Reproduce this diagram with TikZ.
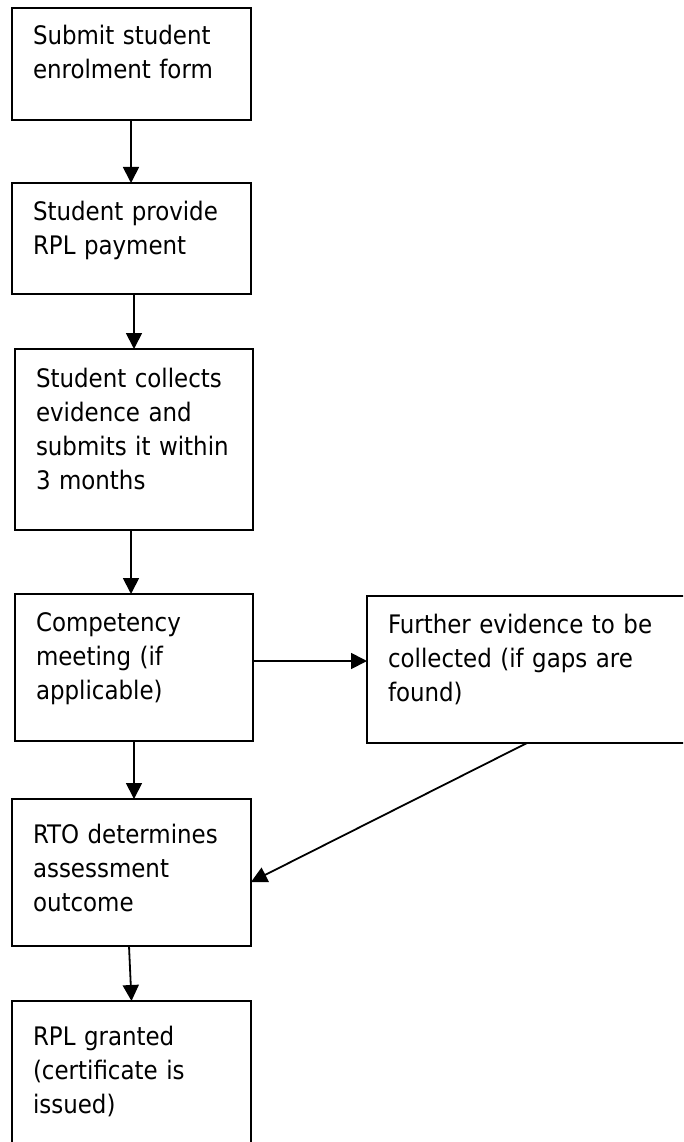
\documentclass[tikz,border=0pt]{standalone}
\usepackage{fontspec}
\setmainfont{DejaVu Sans Condensed}
\usetikzlibrary{arrows.meta}
\tikzset{
  box/.style={draw, line width=2pt, rectangle, inner sep=0pt, outer sep=0pt, anchor=north west},
  lbl/.style={anchor=base west, inner sep=0pt, outer sep=0pt, text width=300pt, align=left,
    font=\fontsize{25.5pt}{34pt}\selectfont},
  conn/.style={line width=1.8pt, -{Triangle[length=16pt,width=16pt]}}
}
\begin{document}
\begin{tikzpicture}[x=1pt,y=-1pt]
\clip (0,0) rectangle (683,1142);
\fill[white] (0,0) rectangle (683,1142);
% boxes
\node[box, minimum width=239pt, minimum height=112pt] (b1) at (12,8) {};
\node[box, minimum width=239pt, minimum height=111pt] (b2) at (12,183) {};
\node[box, minimum width=238pt, minimum height=181pt] (b3) at (15,349) {};
\node[box, minimum width=238pt, minimum height=147pt] (b4) at (15,594) {};
\node[box, minimum width=323pt, minimum height=147pt] (b5) at (367,596) {};
\node[box, minimum width=239pt, minimum height=147pt] (b6) at (12,799) {};
\node[box, minimum width=239pt, minimum height=159pt] (b7) at (12,1001) {};
% texts
\node[lbl] (t1) at ([xshift=21pt,yshift=-37pt]b1.north west) {Submit student\\enrolment form};
\node[lbl] (t2) at ([xshift=21pt,yshift=-37pt]b2.north west) {Student provide\\RPL payment};
\node[lbl] (t3) at ([xshift=21pt,yshift=-38pt]b3.north west) {Student collects\\evidence and\\submits it within\\3 months};
\node[lbl] (t4) at ([xshift=21pt,yshift=-37pt]b4.north west) {Competency\\meeting (if\\applicable)};
\node[lbl] (t5) at ([xshift=21pt,yshift=-37pt]b5.north west) {Further evidence to be\\collected (if gaps are\\found)};
\node[lbl] (t6) at ([xshift=21pt,yshift=-44pt]b6.north west) {RTO determines\\assessment\\outcome};
\node[lbl] (t7) at ([xshift=21pt,yshift=-44pt]b7.north west) {RPL granted\\(certificate is\\issued)};
% connectors
\coordinate (c4e) at ([yshift=6.5pt]b4.east);
\draw[conn] ([xshift=-0.5pt]b1.south) -- ([xshift=-0.5pt]b2.north);
\draw[conn] (b3.north |- b2.south) -- (b3.north);
\draw[conn] ([xshift=-3pt]b3.south) -- ([xshift=-3pt]b4.north);
\draw[conn] (c4e) -- (b5.west |- c4e);
\draw[conn] (b4.south) -- (b4.south |- b6.north);
\draw[conn] ([xshift=160pt]b5.south west) -- ([yshift=-9.5pt]b6.east);
\draw[conn] ([xshift=-2.5pt]b6.south) -- (b7.north);
\end{tikzpicture}
\end{document}
